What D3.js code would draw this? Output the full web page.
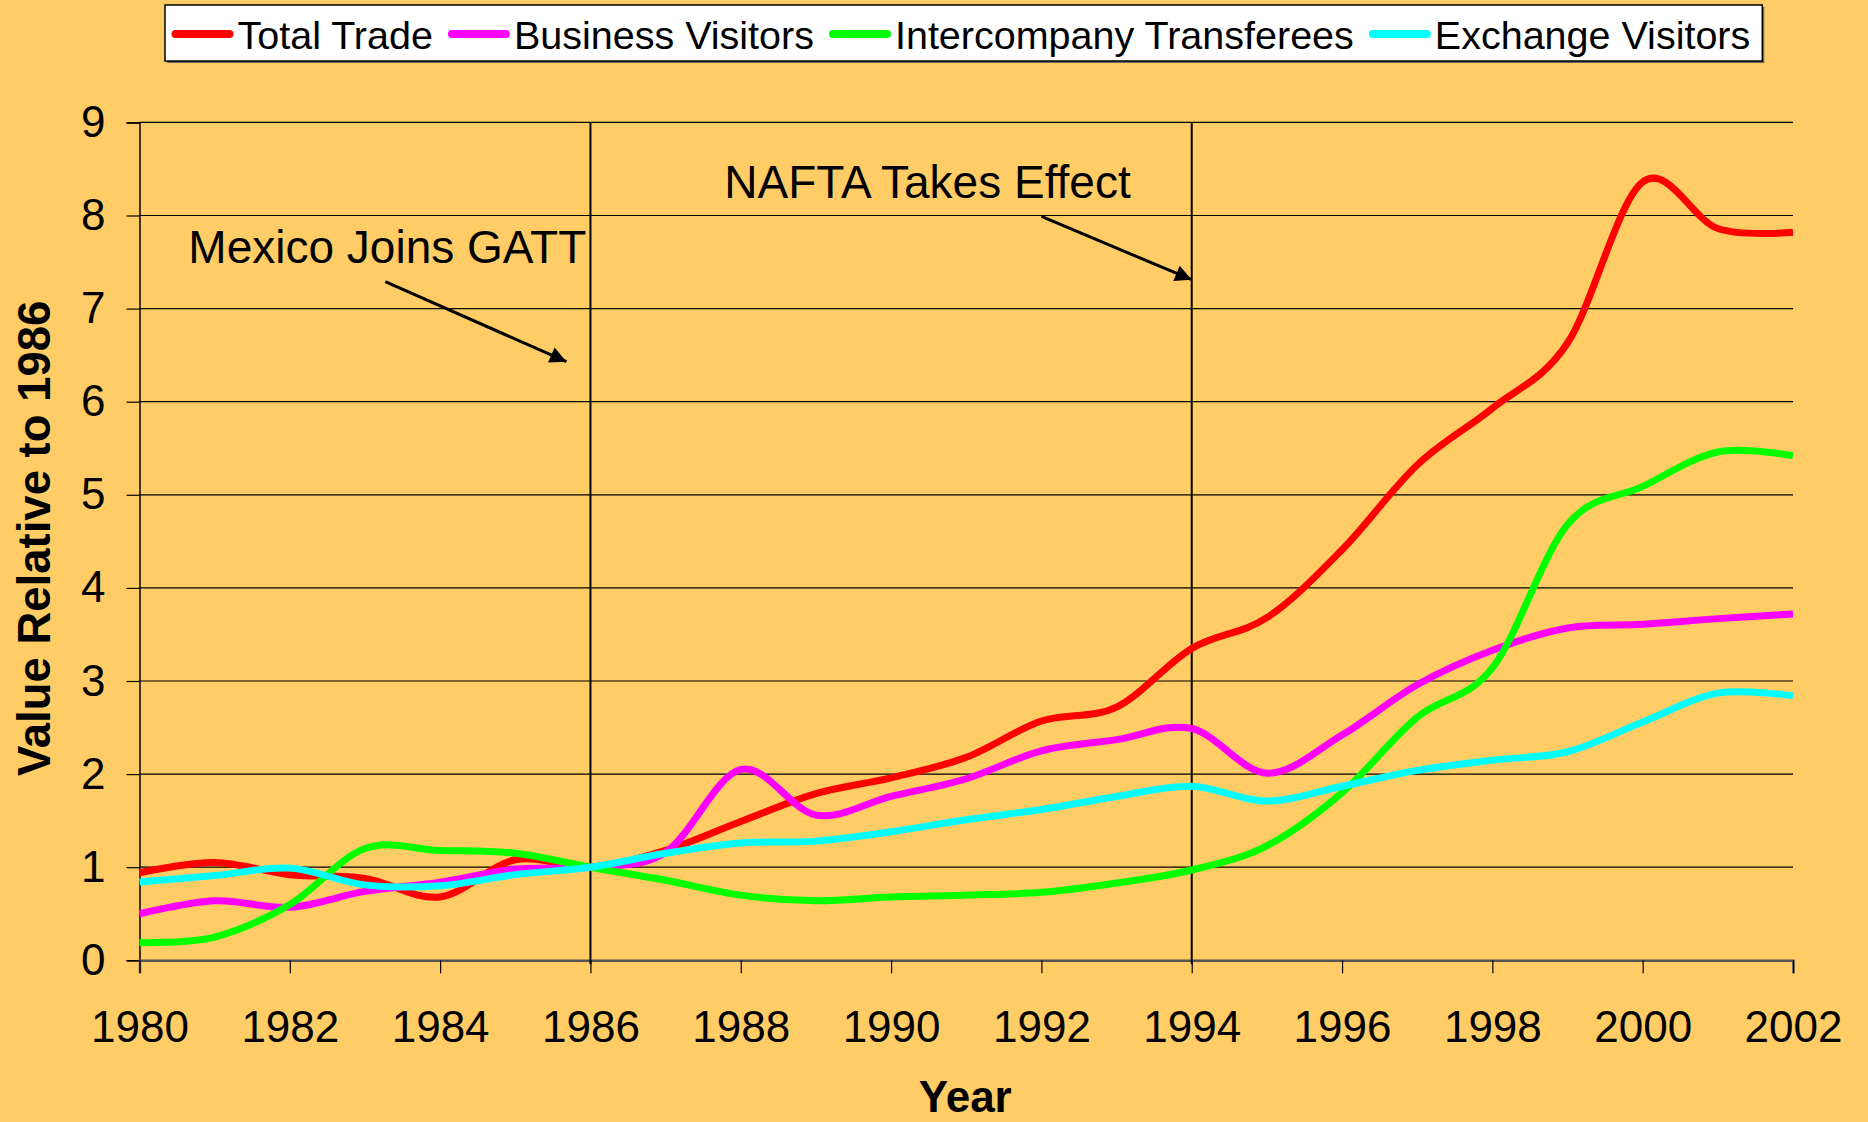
<!DOCTYPE html>
<html>
<head>
<meta charset="utf-8">
<script src="https://cdn.jsdelivr.net/npm/d3@7"></script>
<style>
  html, body { margin: 0; padding: 0; background: #FFCC66; }
  svg { display: block; font-family: "Liberation Sans", Arial, sans-serif; }
</style>
</head>
<body>
<svg id="chart" width="1868" height="1122"></svg>
<script>
// data (value relative to 1986)
const years = [1980, 1981, 1982, 1983, 1984, 1985, 1986, 1987, 1988, 1989, 1990, 1991,
               1992, 1993, 1994, 1995, 1996, 1997, 1998, 1999, 2000, 2001, 2002];

const totalTrade = [0.94, 1.05, 0.92, 0.88, 0.68, 1.08, 1.00, 1.18, 1.49, 1.79, 1.96, 2.18,
                    2.57, 2.72, 3.35, 3.68, 4.41, 5.32, 5.93, 6.63, 8.36, 7.86, 7.82];
const businessVisitors = [0.50, 0.64, 0.57, 0.74, 0.84, 0.98, 1.00, 1.16, 2.05, 1.56, 1.76, 1.95,
                          2.25, 2.37, 2.49, 2.01, 2.42, 2.96, 3.33, 3.57, 3.61, 3.67, 3.72];
const intercompanyTransferees = [0.19, 0.25, 0.60, 1.20, 1.18, 1.15, 1.00, 0.86, 0.70, 0.64, 0.68, 0.70,
                                 0.73, 0.83, 0.97, 1.23, 1.80, 2.61, 3.14, 4.68, 5.09, 5.46, 5.42];
const exchangeVisitors = [0.84, 0.91, 0.99, 0.81, 0.80, 0.92, 1.00, 1.15, 1.26, 1.28, 1.38, 1.51,
                          1.62, 1.76, 1.87, 1.71, 1.87, 2.04, 2.15, 2.24, 2.56, 2.87, 2.84];

const seriesNames = ["Total Trade", "Business Visitors", "Intercompany Transferees", "Exchange Visitors"];
const seriesValues = [totalTrade, businessVisitors, intercompanyTransferees, exchangeVisitors];
const seriesColors = ["#FF0000", "#FF00FF", "#00FF00", "#00FFFF"];

const xTicks = [1980, 1982, 1984, 1986, 1988, 1990, 1992, 1994, 1996, 1998, 2000, 2002];
const yTicks = [0, 1, 2, 3, 4, 5, 6, 7, 8, 9];

// events marked with a vertical line, text and arrow (data units)
const eventYears = [1986, 1994];
const eventLabels = ["Mexico Joins GATT", "NAFTA Takes Effect"];
const labelAt = [[1980.65, 7.49], [1987.78, 8.19]];
const arrowFrom = [[1983.27, 7.29], [1992.0, 7.99]];
const arrowTo = [[1985.68, 6.43], [1994.0, 7.31]];

const W = 1868, H = 1122;
const margin = { top: 122.4, right: 75, bottom: 161.7, left: 139.5 };
const innerW = W - margin.left - margin.right;
const innerH = H - margin.top - margin.bottom;

const svg = d3.select("#chart");

svg.append("rect").attr("width", W).attr("height", H).attr("fill", "#FFCC66");

const defs = svg.append("defs");
defs.append("marker")
  .attr("id", "arrowhead")
  .attr("viewBox", "0 0 10 10")
  .attr("refX", 10).attr("refY", 5)
  .attr("markerWidth", 7.5).attr("markerHeight", 5.5)
  .attr("markerUnits", "strokeWidth")
  .attr("orient", "auto")
  .append("path").attr("d", "M0,0 L10,5 L0,10 Z").attr("fill", "#000");

const g = svg.append("g").attr("transform", `translate(${margin.left},${margin.top})`);

const x = d3.scaleLinear().domain([1980, 2002]).range([0, innerW]);
const y = d3.scaleLinear().domain([0, 9]).range([innerH, 0]);

// gridlines
g.append("g")
  .selectAll("line")
  .data(yTicks.filter(d => d > 0))
  .join("line")
  .attr("x1", 0).attr("x2", innerW)
  .attr("y1", d => y(d)).attr("y2", d => y(d))
  .attr("stroke", "#000").attr("stroke-width", 1.2);

// y axis
const yAxis = g.append("g")
  .call(d3.axisLeft(y).tickValues(yTicks).tickSize(13).tickPadding(21));
yAxis.select(".domain").attr("stroke", "#000").attr("stroke-width", 1.5);
yAxis.selectAll(".tick line").attr("stroke", "#000").attr("stroke-width", 1.2);
yAxis.selectAll(".tick text")
  .attr("font-size", 44).attr("fill", "#000")
  .attr("font-family", "Liberation Sans, Arial, sans-serif");

// x axis
const xAxis = g.append("g")
  .attr("transform", `translate(0,${innerH})`)
  .call(d3.axisBottom(x).tickValues(xTicks).tickFormat(d3.format("d")).tickSize(13).tickPadding(37));
xAxis.select(".domain").attr("stroke", "#555").attr("stroke-width", 2.5);
xAxis.selectAll(".tick line").attr("stroke", "#000").attr("stroke-width", 1.2);
xAxis.selectAll(".tick text")
  .attr("font-size", 44).attr("fill", "#000")
  .attr("font-family", "Liberation Sans, Arial, sans-serif");

// event lines
g.append("g")
  .selectAll("line")
  .data(eventYears)
  .join("line")
  .attr("x1", d => x(d)).attr("x2", d => x(d))
  .attr("y1", y(9)).attr("y2", innerH + 4)
  .attr("stroke", "#000").attr("stroke-width", 2);

// series
const line = d3.line()
  .x((d, i) => x(years[i]))
  .y(d => y(d))
  .curve(d3.curveCardinal.tension(0));

g.append("g")
  .selectAll("path")
  .data(seriesValues)
  .join("path")
  .attr("d", d => line(d))
  .attr("fill", "none")
  .attr("stroke", (d, i) => seriesColors[i])
  .attr("stroke-width", 7)
  .attr("stroke-linejoin", "round")
  .attr("stroke-linecap", "butt");

// annotations
const ann = g.append("g");
ann.selectAll("text")
  .data(eventLabels)
  .join("text")
  .attr("x", (d, i) => x(labelAt[i][0]))
  .attr("y", (d, i) => y(labelAt[i][1]))
  .attr("font-size", 46)
  .attr("fill", "#000")
  .text(d => d);

ann.selectAll("line")
  .data(eventLabels)
  .join("line")
  .attr("x1", (d, i) => x(arrowFrom[i][0]))
  .attr("y1", (d, i) => y(arrowFrom[i][1]))
  .attr("x2", (d, i) => x(arrowTo[i][0]))
  .attr("y2", (d, i) => y(arrowTo[i][1]))
  .attr("stroke", "#000").attr("stroke-width", 3)
  .attr("marker-end", "url(#arrowhead)");

// axis titles
svg.append("text")
  .attr("x", margin.left + innerW / 2 - 1)
  .attr("y", 1112)
  .attr("text-anchor", "middle")
  .attr("font-size", 44).attr("font-weight", "bold")
  .text("Year");

svg.append("text")
  .attr("transform", `translate(50,${margin.top + innerH / 2 - 3}) rotate(-90)`)
  .attr("text-anchor", "middle")
  .attr("font-size", 45.5).attr("font-weight", "bold")
  .text("Value Relative to 1986");

// legend
const legend = svg.append("g");
const shadow = legend.append("rect");
const box = legend.append("rect");
const items = legend.append("g");
let cx = 175.5;
seriesNames.forEach((name, i) => {
  items.append("line")
    .attr("x1", cx).attr("x2", cx + 54)
    .attr("y1", 34).attr("y2", 34)
    .attr("stroke", seriesColors[i]).attr("stroke-width", 8)
    .attr("stroke-linecap", "round");
  const t = items.append("text")
    .attr("x", cx + 62).attr("y", 48.5)
    .attr("font-size", 39.5).attr("fill", "#000")
    .text(name);
  cx += 62 + t.node().getComputedTextLength() + 19;
});
const boxRight = cx - 19 + 12;
box.attr("x", 165).attr("y", 5).attr("width", boxRight - 165).attr("height", 56)
  .attr("fill", "#fff").attr("stroke", "#000").attr("stroke-width", 1.5);
shadow.attr("x", 167).attr("y", 7).attr("width", boxRight - 165).attr("height", 56)
  .attr("fill", "#666");
</script>
</body>
</html>
